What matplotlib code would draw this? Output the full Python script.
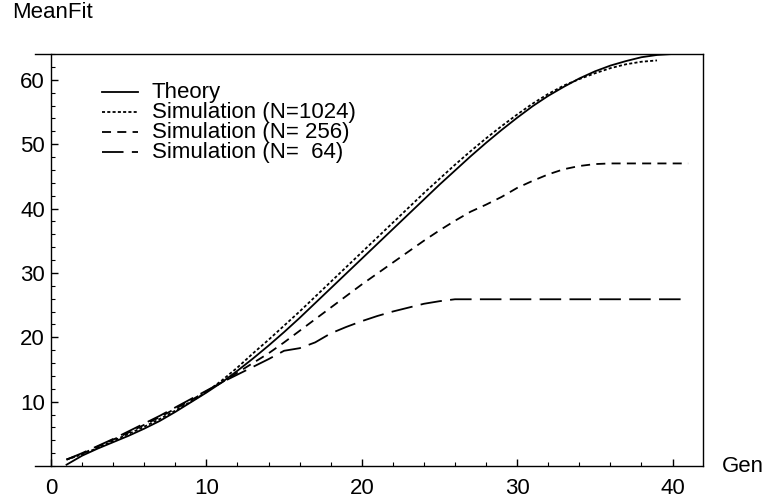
import matplotlib
matplotlib.use("Agg")
import matplotlib.pyplot as plt
from matplotlib.lines import Line2D
from matplotlib.ticker import MultipleLocator

plt.rcParams['font.family'] = ['Liberation Sans', 'DejaVu Sans']
plt.rcParams['lines.scale_dashes'] = False

# Datos
gen_teoria = list(range(1, 41))
teoria = [0.2, 1.6, 2.7, 3.7, 4.7, 5.8, 7.0, 8.4, 9.9, 11.4,
          13.0, 14.8, 16.7, 18.7, 20.8, 23.0, 25.3, 27.6, 29.9, 32.2,
          34.5, 36.8, 39.1, 41.4, 43.7, 45.9, 48.1, 50.2, 52.2, 54.1,
          55.9, 57.5, 58.9, 60.2, 61.3, 62.2, 62.9, 63.5, 63.85, 64.0]

gen_1024 = list(range(1, 40))
sim_1024 = [1.0, 1.8, 2.8, 3.9, 5.0, 6.1, 7.3, 8.6, 10.0, 11.5,
            13.3, 15.3, 17.5, 19.6, 21.8, 24.0, 26.3, 28.6, 30.9, 33.2,
            35.5, 37.8, 40.1, 42.4, 44.6, 46.8, 48.9, 50.9, 52.8, 54.6,
            56.3, 57.8, 59.1, 60.1, 61.0, 61.8, 62.4, 62.8, 63.0]

gen_256 = list(range(1, 42))
sim_256 = [1.0, 1.9, 3.0, 4.1, 5.2, 6.4, 7.6, 8.9, 10.2, 11.6,
           13.0, 14.5, 16.0, 17.5, 19.2, 21.0, 22.8, 24.6, 26.4, 28.2,
           29.9, 31.6, 33.3, 35.0, 36.6, 38.1, 39.5, 40.6, 41.8, 43.2,
           44.3, 45.3, 46.1, 46.6, 46.9, 47.0, 47.0, 47.0, 47.0, 47.0, 47.0]

gen_64 = list(range(1, 42))
sim_64 = [1.0, 2.0, 3.1, 4.2, 5.4, 6.6, 7.8, 9.1, 10.4, 11.7,
          13.0, 14.2, 15.4, 16.6, 17.9, 18.3, 19.2, 20.6, 21.6, 22.5,
          23.3, 24.0, 24.6, 25.2, 25.6, 25.9, 25.9, 25.9, 25.9, 25.9,
          25.9, 25.9, 25.9, 25.9, 25.9, 25.9, 25.9, 25.9, 25.9, 25.9, 25.9]

etiquetas = ["Theory", "Simulation (N=1024)", "Simulation (N= 256)", "Simulation (N=  64)"]
estilos = ['-', (0, (2.2, 1.6)), (0, (6.5, 4.5)), (0, (15.5, 6.0))]

W, H = 764, 501
fig = plt.figure(figsize=(W / 100, H / 100), dpi=100)
ax = fig.add_axes([35 / W, 1 - 466 / H, (703 - 35) / W, (466 - 54) / H])

lw = 1.3
series = [(gen_teoria, teoria), (gen_1024, sim_1024), (gen_256, sim_256), (gen_64, sim_64)]
for (gx, gy), ls in zip(series, estilos):
    ax.plot(gx, gy, color='black', linestyle=ls, linewidth=lw)

ax.set_xlim(-1.03, 41.96)
ax.set_ylim(0, 64)
ax.spines['left'].set_position(('data', 0))
for s in ax.spines.values():
    s.set_linewidth(1.0)

ax.set_xticks([0, 10, 20, 30, 40])
ax.set_yticks([10, 20, 30, 40, 50, 60])
ax.xaxis.set_minor_locator(MultipleLocator(2))
ax.yaxis.set_minor_locator(MultipleLocator(2))
ax.tick_params(which='both', direction='in', top=False, right=False, labelsize=16)
ax.tick_params(which='major', length=5, width=1.0)
ax.tick_params(which='minor', length=3, width=0.8)
ax.tick_params(axis='x', pad=9)
ax.tick_params(axis='y', pad=4.5)

# Leyenda dibujada a mano
for i, (lab, ls) in enumerate(zip(etiquetas, estilos)):
    py = 91.7 + 20 * i
    fig.add_artist(Line2D([101.7 / W, 138 / W], [1 - py / H, 1 - py / H],
                          transform=fig.transFigure, color='black',
                          linestyle=ls, linewidth=lw))
    fig.text(152 / W, 1 - (py + 6.5) / H, lab, fontsize=16, va='baseline', ha='left')

fig.text(12 / W, 1 - 17.5 / H, "MeanFit", fontsize=16, va='baseline', ha='left')
fig.text(722 / W, 1 - 472 / H, "Gen", fontsize=16, va='baseline', ha='left')

fig.savefig("out.png", dpi=100)
